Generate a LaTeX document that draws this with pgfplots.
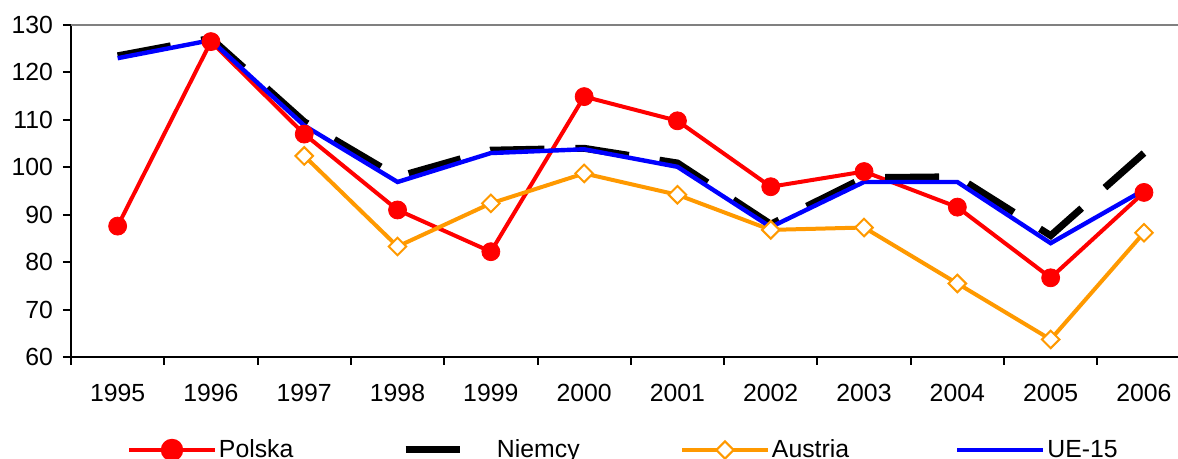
\documentclass[border=0pt]{standalone}
\usepackage{fontspec}
\setmainfont{Liberation Sans}
\usepackage{pgfplots}
\pgfplotsset{compat=1.18}
\definecolor{austria}{HTML}{FF9900}

\begin{document}
\begin{tikzpicture}
\begin{axis}[
  scale only axis, width=559.8pt, height=166pt,
  at={(0,0)}, anchor=south west,
  xmin=-0.5, xmax=11.5, ymin=60, ymax=130,
  axis lines=left, axis line style={-, line width=1pt, black},
  xtick={-0.5,0.5,...,11.5},
  xticklabels={1995,1996,1997,1998,1999,2000,2001,2002,2003,2004,2005,2006,{}},
  xticklabel style={xshift=23.3pt, yshift=-6.2pt},
  yticklabel style={xshift=-1.5pt},
  ytick={60,70,...,130},
  tick align=outside, major tick length=4pt,
  tick style={line width=1pt, black},
  tick label style={font=\fontsize{12.4}{14}\selectfont},
  /pgf/number format/assume math mode=true,
  legend columns=4,
  legend style={at={(0,0)}, anchor=west, xshift=28pt, yshift=-46.5pt,
    draw=none, fill=none, inner sep=0pt, outer sep=0pt, column sep=1pt,
    font=\fontsize{12.4}{14}\selectfont, nodes={inner sep=0pt}},
]
\draw[gray, line width=0.6pt] (rel axis cs:0,1) -- (rel axis cs:1,1);

\addplot[red, line width=2pt, mark=none,
  legend image code/.code={\draw[red,line width=2pt] (0pt,0pt) -- (43pt,0pt);
    \fill[red] (21.5pt,0pt) circle[radius=4.6pt];}]
  coordinates {(0,87.6) (1,126.5) (2,107) (3,91) (4,82.2) (5,114.9) (6,109.8) (7,95.9) (8,99.1) (9,91.6) (10,76.7) (11,94.7)};
\addlegendentry{\makebox[90.5pt][l]{Polska}}

\addplot[black, line width=3.5pt, dash pattern=on 27pt off 15.5pt,
  legend image code/.code={\draw[black,line width=3.5pt,dash pattern=on 27pt off 16pt] (0pt,0pt) -- (43pt,0pt);}]
  coordinates {(0,123.5) (1,127.2) (2,109.6) (3,98) (4,103.6) (5,104) (6,100.9) (7,88) (8,97.8) (9,98) (10,85.6) (11,103)};
\addlegendentry{\makebox[90.5pt][l]{Niemcy}}

\addplot[austria, line width=2pt, mark=none,
  legend image code/.code={\draw[austria,line width=2pt] (0pt,0pt) -- (43pt,0pt);
    \draw[austria,line width=1pt,fill=white] (21.5pt,4.3pt) -- (25.8pt,0pt) -- (21.5pt,-4.3pt) -- (17.2pt,0pt) -- cycle;}]
  coordinates {(2,102.4) (3,83.3) (4,92.4) (5,98.7) (6,94.2) (7,86.8) (8,87.3) (9,75.5) (10,63.7) (11,86.2)};
\addlegendentry{\makebox[90.5pt][l]{Austria}}

\addplot[blue, line width=2.2pt, mark=none,
  legend image code/.code={\draw[blue,line width=2.2pt] (0pt,0pt) -- (43pt,0pt);}]
  coordinates {(0,123) (1,126.8) (2,108.8) (3,96.9) (4,103) (5,103.8) (6,100.1) (7,87.4) (8,96.9) (9,96.9) (10,84) (11,95.2)};
\addlegendentry{UE-15}

\addplot[forget plot, only marks, red, mark=*, mark size=4.5pt]
  coordinates {(0,87.6) (1,126.5) (2,107) (3,91) (4,82.2) (5,114.9) (6,109.8) (7,95.9) (8,99.1) (9,91.6) (10,76.7) (11,94.7)};
\addplot[forget plot, only marks, austria, mark=square*, mark size=3.1pt,
  mark options={rotate=45, fill=white, draw=austria, line width=1pt}]
  coordinates {(2,102.4) (3,83.3) (4,92.4) (5,98.7) (6,94.2) (7,86.8) (8,87.3) (9,75.5) (10,63.7) (11,86.2)};
\end{axis}
\pgfresetboundingbox
\path[use as bounding box] (-35.5pt,-51pt) rectangle (553.5pt,178.5pt);
\end{tikzpicture}
\end{document}
